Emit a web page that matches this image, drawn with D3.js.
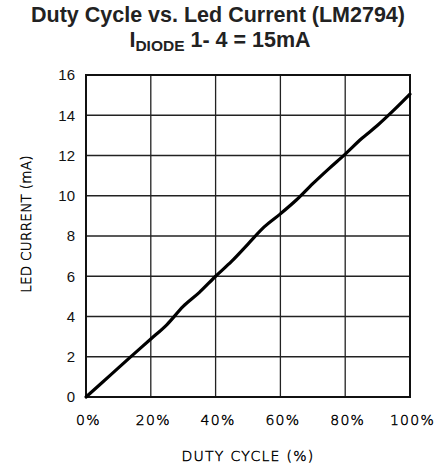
<!DOCTYPE html>
<html><head><meta charset="utf-8">
<script src="https://cdn.jsdelivr.net/npm/d3@7"></script>
<style>body{margin:0;background:#fff}</style>
</head><body>
<svg id="c" width="438" height="469"></svg>
<script>
const duty = [0, 5, 10, 13.6, 20, 25, 30, 35, 40, 45, 50, 55, 60, 65, 70, 75, 80, 85, 90, 95, 100];
const current = [0, 0.72, 1.45, 1.97, 2.88, 3.6, 4.5, 5.2, 6.0, 6.75, 7.6, 8.45, 9.1, 9.8, 10.6, 11.35, 12.07, 12.83, 13.5, 14.25, 15.05];
const xTicks = [0, 20, 40, 60, 80, 100];
const yTicks = [0, 2, 4, 6, 8, 10, 12, 14, 16];

const svg = d3.select('#c');
const L = 86, R = 410, T = 75, B = 397;
const x = d3.scaleLinear().domain([0, 100]).range([L, R]);
const y = d3.scaleLinear().domain([0, 16]).range([B, T]);

const thinFont = sel => sel.attr('font-family', 'DejaVu Sans').attr('font-weight', 200)
  .attr('fill', '#000').attr('stroke', '#000').attr('stroke-width', 0.45);

// grid
svg.append('g').selectAll('line').data(xTicks).join('line')
  .attr('x1', d => x(d)).attr('x2', d => x(d)).attr('y1', T).attr('y2', B)
  .attr('stroke', '#222').attr('stroke-width', 1.3);
svg.append('g').selectAll('line').data(yTicks).join('line')
  .attr('y1', d => y(d)).attr('y2', d => y(d)).attr('x1', L).attr('x2', R)
  .attr('stroke', '#222').attr('stroke-width', 1.3);
svg.append('rect').attr('x', L).attr('y', T).attr('width', R - L).attr('height', B - T)
  .attr('fill', 'none').attr('stroke', '#111').attr('stroke-width', 2);

// axes labels
const xAxis = d3.axisBottom(x).tickValues(xTicks).tickSize(0).tickPadding(0).tickFormat(d => d + '%');
const gx = svg.append('g').attr('transform', `translate(0,${B})`).call(xAxis);
gx.select('.domain').remove();
gx.selectAll('text').attr('dy', 0).attr('y', 28).attr('font-size', 14)
  .attr('letter-spacing', 1.3).attr('dx', 2).call(thinFont);

const yAxis = d3.axisLeft(y).tickValues(yTicks).tickSize(0).tickPadding(11);
const gy = svg.append('g').attr('transform', `translate(${L},0)`).call(yAxis);
gy.select('.domain').remove();
gy.selectAll('text').attr('font-family', 'Liberation Sans Narrow, Liberation Sans, Arial').attr('font-size', 15)
  .attr('fill', '#111').attr('dy', '0.32em');

// line
const line = d3.line().x((d, i) => x(duty[i])).y(d => y(d)).curve(d3.curveMonotoneX);
svg.append('path').datum(current).attr('d', line).attr('fill', 'none')
  .attr('stroke', '#000').attr('stroke-width', 3.2).attr('stroke-linecap', 'round');

// titles
svg.append('text').attr('x', 218).attr('y', 22).attr('text-anchor', 'middle')
  .attr('font-family', 'Liberation Sans, Arial').attr('font-weight', 'bold').attr('font-size', 21.5)
  .attr('fill', '#222').text('Duty Cycle vs. Led Current (LM2794)');
const t2 = svg.append('text').attr('x', 220).attr('y', 47).attr('text-anchor', 'middle')
  .attr('font-family', 'Liberation Sans, Arial').attr('font-weight', 'bold').attr('font-size', 21.5)
  .attr('fill', '#222');
t2.append('tspan').text('I');
t2.append('tspan').attr('font-size', 15.5).attr('dy', 4).text('DIODE');
t2.append('tspan').attr('dy', -4).text(' 1- 4 = 15mA');

svg.append('text').attr('x', 248).attr('y', 461).attr('text-anchor', 'middle')
  .attr('font-size', 14).attr('letter-spacing', 1.3).call(thinFont).text('DUTY CYCLE (%)');
svg.append('text').attr('transform', 'translate(31,224) rotate(-90)').attr('text-anchor', 'middle')
  .attr('font-size', 13.5).attr('letter-spacing', 0.3).call(thinFont).text('LED CURRENT (mA)');
</script>
</body></html>
